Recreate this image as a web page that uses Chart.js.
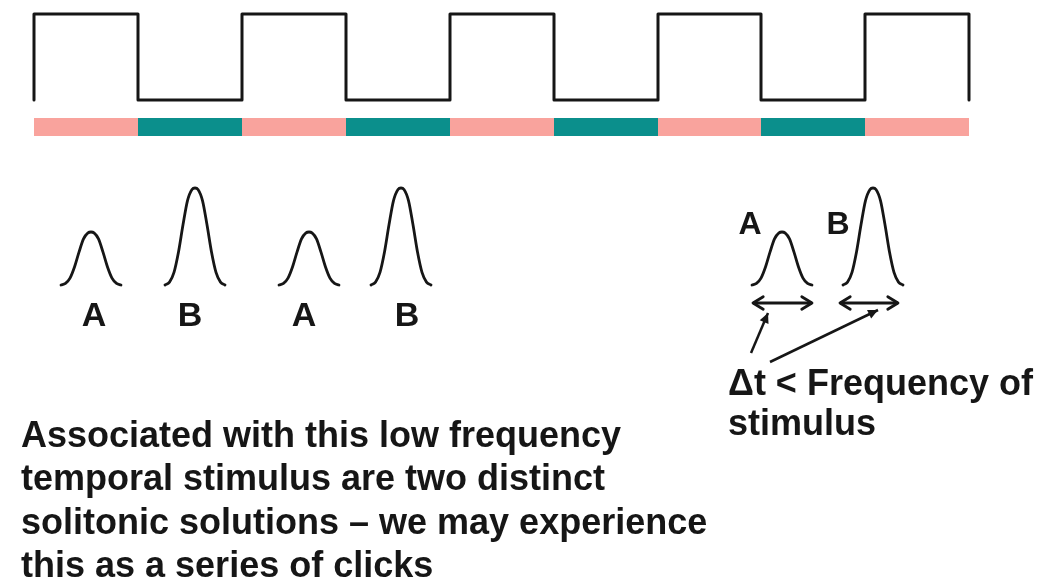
<!DOCTYPE html>
<html>
<head>
<meta charset="utf-8">
<script src="https://cdn.jsdelivr.net/npm/chart.js@4.4.1/dist/chart.umd.min.js"></script>
<style>
  html, body { margin: 0; padding: 0; background: #fff; }
  #wrap { width: 1046px; height: 586px; }
</style>
</head>
<body>
<div id="wrap"><canvas id="diagram" width="1046" height="586"></canvas></div>
<script>
// square wave: switching times and the two levels
const edgeX = [34, 138, 242, 346, 450, 554, 658, 761, 865, 969];
const waveHigh = 14;
const waveLow = 100;

// colour band under the wave (one segment per half period)
const bandY = 127;
const bandColors = ['#F9A39D', '#0B8F8C'];

// pulses: centre, peak height above the baseline, label
const pulseBase = 285;
const pulseCenters = [91, 195, 309, 401, 782, 873];
const pulseHeights = [53, 97, 53, 97, 53, 97];
const pulseHalfWidth = 30;
// pulse profile (offset from centre / half width -> relative height)
const profileU = [-1, -0.85, -0.7, -0.55, -0.4, -0.25, -0.1, 0, 0.1, 0.25, 0.4, 0.55, 0.7, 0.85, 1];
const profileV = [0, 0.03, 0.13, 0.34, 0.62, 0.87, 0.985, 1, 0.985, 0.87, 0.62, 0.34, 0.13, 0.03, 0];

// labels under / beside the pulses
const labelText = ['A', 'B', 'A', 'B', 'A', 'B'];
const labelX = [94, 190, 304, 407, 750, 838];
const labelY = [326, 326, 326, 326, 234, 234];
const labelSize = [34, 34, 34, 34, 32, 32];

// Δt arrows
const spanArrows = [[753, 812], [840, 898]];
const spanY = 303;
const pointerFrom = [[751, 353], [770, 362]];
const pointerTo = [[768, 313], [878, 310]];

// texts
const noteLines = ['Δt < Frequency of', 'stimulus'];
const noteX = 728;
const noteY = [395, 435];
const bodyLines = [
  'Associated with this low frequency',
  'temporal stimulus are two distinct',
  'solitonic solutions – we may experience',
  'this as a series of clicks'
];
const bodyX = 21;
const bodyY = [447, 490, 534, 577];

const ink = '#161616';

// ---- build datasets ----
const datasets = [];

// square wave
const wave = [{ x: edgeX[0], y: waveLow }];
for (let i = 0; i < edgeX.length - 1; i++) {
  const lvl = i % 2 === 0 ? waveHigh : waveLow;
  wave.push({ x: edgeX[i], y: lvl });
  wave.push({ x: edgeX[i + 1], y: lvl });
}
wave.push({ x: edgeX[edgeX.length - 1], y: waveLow });
datasets.push({
  data: wave, showLine: true, borderColor: ink, borderWidth: 3,
  borderJoinStyle: 'round', borderCapStyle: 'round', pointRadius: 0
});

// colour band
for (let i = 0; i < edgeX.length - 1; i++) {
  datasets.push({
    data: [{ x: edgeX[i], y: bandY }, { x: edgeX[i + 1], y: bandY }],
    showLine: true, borderColor: bandColors[i % 2], borderWidth: 18,
    borderCapStyle: 'butt', pointRadius: 0
  });
}

// pulses
pulseCenters.forEach(function(c, k) {
  const pts = profileU.map(function(u, j) {
    return { x: c + u * pulseHalfWidth, y: pulseBase - profileV[j] * pulseHeights[k] };
  });
  datasets.push({
    data: pts, showLine: true, borderColor: ink, borderWidth: 2.8,
    cubicInterpolationMode: 'monotone', borderCapStyle: 'round', pointRadius: 0
  });
});

// double headed arrows
spanArrows.forEach(function(s) {
  datasets.push({
    data: [{ x: s[0], y: spanY }, { x: s[1], y: spanY }],
    showLine: true, borderColor: ink, borderWidth: 2.8, pointRadius: 0,
    arrow: 'both'
  });
});

// pointer arrows
pointerFrom.forEach(function(p, k) {
  datasets.push({
    data: [{ x: p[0], y: p[1] }, { x: pointerTo[k][0], y: pointerTo[k][1] }],
    showLine: true, borderColor: ink, borderWidth: 2.5, pointRadius: 0,
    arrow: 'end'
  });
});

function chevron(ctx, tipX, tipY, fromX, fromY, size) {
  const a = Math.atan2(tipY - fromY, tipX - fromX);
  ctx.beginPath();
  ctx.moveTo(tipX - size * Math.cos(a - 0.55), tipY - size * Math.sin(a - 0.55));
  ctx.lineTo(tipX, tipY);
  ctx.lineTo(tipX - size * Math.cos(a + 0.55), tipY - size * Math.sin(a + 0.55));
  ctx.stroke();
}

function headFilled(ctx, tipX, tipY, fromX, fromY, size) {
  const a = Math.atan2(tipY - fromY, tipX - fromX);
  ctx.beginPath();
  ctx.moveTo(tipX, tipY);
  ctx.lineTo(tipX - size * Math.cos(a - 0.45), tipY - size * Math.sin(a - 0.45));
  ctx.lineTo(tipX - size * Math.cos(a + 0.45), tipY - size * Math.sin(a + 0.45));
  ctx.closePath();
  ctx.fill();
}

const decorations = {
  id: 'decorations',
  afterDatasetsDraw(chart) {
    const ctx = chart.ctx;
    const xs = chart.scales.x, ys = chart.scales.y;
    ctx.save();
    ctx.strokeStyle = ink;
    ctx.fillStyle = ink;
    ctx.lineWidth = 2.8;
    ctx.lineCap = 'round';
    ctx.lineJoin = 'round';
    chart.data.datasets.forEach(function(ds, i) {
      if (!ds.arrow) return;
      const pts = chart.getDatasetMeta(i).data;
      const p0 = pts[0], p1 = pts[pts.length - 1];
      if (ds.arrow === 'both') {
        chevron(ctx, p1.x, p1.y, p0.x, p0.y, 12);
        chevron(ctx, p0.x, p0.y, p1.x, p1.y, 12);
      } else {
        headFilled(ctx, p1.x, p1.y, p0.x, p0.y, 11);
      }
    });

    ctx.textBaseline = 'alphabetic';
    ctx.textAlign = 'center';
    labelText.forEach(function(t, k) {
      ctx.font = 'bold ' + labelSize[k] + 'px "Liberation Sans", Arial, sans-serif';
      ctx.fillText(t, xs.getPixelForValue(labelX[k]), ys.getPixelForValue(labelY[k]));
    });

    ctx.textAlign = 'left';
    ctx.font = 'bold 36px "Liberation Sans", Arial, sans-serif';
    noteLines.forEach(function(t, k) {
      ctx.fillText(t, xs.getPixelForValue(noteX), ys.getPixelForValue(noteY[k]));
    });
    bodyLines.forEach(function(t, k) {
      ctx.fillText(t, xs.getPixelForValue(bodyX), ys.getPixelForValue(bodyY[k]));
    });
    ctx.restore();
  }
};

new Chart(document.getElementById('diagram').getContext('2d'), {
  type: 'scatter',
  data: { datasets: datasets },
  options: {
    responsive: false,
    animation: false,
    devicePixelRatio: 1,
    layout: { padding: 0 },
    plugins: { legend: { display: false }, tooltip: { enabled: false } },
    scales: {
      x: { type: 'linear', min: 0, max: 1046, display: false },
      y: { type: 'linear', min: 0, max: 586, reverse: true, display: false }
    }
  },
  plugins: [decorations]
});
</script>
</body>
</html>
